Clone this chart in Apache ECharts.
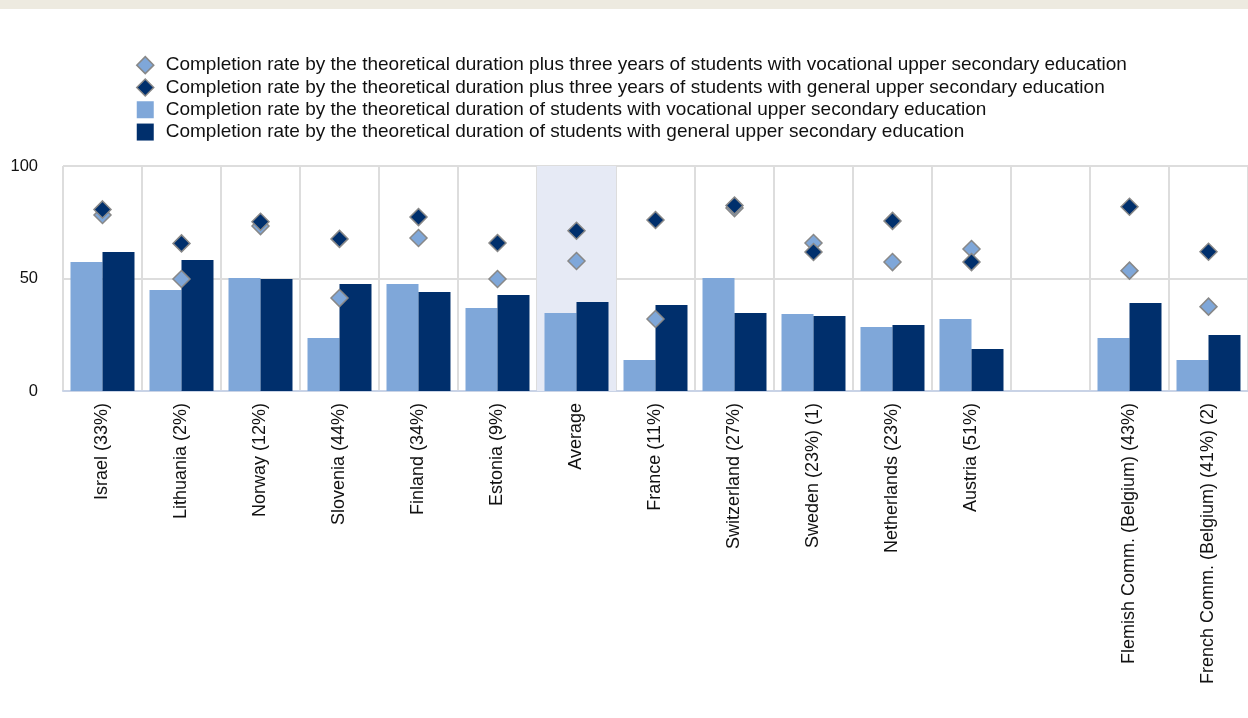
<!DOCTYPE html>
<html>
<head>
<meta charset="utf-8">
<script src="https://cdn.jsdelivr.net/npm/echarts@6/dist/echarts.min.js"></script>
<style>html,body{margin:0;padding:0;background:#fff}#c{width:1248px;height:718px}</style>
</head>
<body>
<div id="c"></div>
<script>
const categories = ['Israel (33%)','Lithuania (2%)','Norway (12%)','Slovenia (44%)','Finland (34%)','Estonia (9%)','Average','France (11%)','Switzerland (27%)','Sweden (23%) (1)','Netherlands (23%)','Austria (51%)','','Flemish Comm. (Belgium) (43%)','French Comm. (Belgium) (41%) (2)'];
const vocTheoretical = [57.3, 44.9, 50.2, 23.6, 47.6, 36.9, 34.7, 13.8, 50.2, 34.2, 28.4, 32.0, null, 23.6, 13.8];
const genTheoretical = [61.8, 58.2, 49.8, 47.6, 44.0, 42.7, 39.6, 38.2, 34.7, 33.3, 29.3, 18.7, null, 39.1, 24.9];
const vocPlus3 = [78.2, 49.8, 73.3, 41.3, 68.0, 49.8, 57.8, 32.0, 81.3, 65.8, 57.3, 63.1, null, 53.5, 37.5];
const genPlus3 = [80.7, 65.6, 75.2, 67.6, 77.3, 65.8, 71.2, 76.0, 82.4, 61.8, 75.6, 57.3, null, 81.9, 61.9];
const yTicks = [0, 50, 100];

const names = [
  'Completion rate by the theoretical duration plus three years of students with vocational upper secondary education',
  'Completion rate by the theoretical duration plus three years of students with general upper secondary education',
  'Completion rate by the theoretical duration of students with vocational upper secondary education',
  'Completion rate by the theoretical duration of students with general upper secondary education'
];
const LIGHT = '#7FA7D9', DARK = '#002F6C';
const FONT = '"Liberation Sans", Arial, sans-serif';

const chart = echarts.init(document.getElementById('c'));
chart.setOption({
  animation: false,
  textStyle: {fontFamily: FONT},
  graphic: [{type: 'rect', left: 0, top: 0, shape: {width: 1248, height: 9}, style: {fill: '#EDEAE0'}, silent: true}],
  legend: {
    orient: 'vertical', left: 136, top: 54, padding: 0, itemGap: 0, itemWidth: 17, itemHeight: 17,
    textStyle: {fontSize: 19, lineHeight: 22.3, color: '#111', fontFamily: FONT, padding: [0, 0, 0, 7]},
    data: [
      {name: names[0], icon: 'diamond', itemStyle: {color: LIGHT, borderColor: '#888', borderWidth: 1.5}},
      {name: names[1], icon: 'diamond', itemStyle: {color: DARK, borderColor: '#888', borderWidth: 1.5}},
      {name: names[2], icon: 'rect'},
      {name: names[3], icon: 'rect'}
    ]
  },
  grid: {left: 63, right: 0, top: 166, bottom: 327},
  xAxis: {
    type: 'category', data: categories,
    axisLine: {show: true, lineStyle: {color: '#C9D3E6', width: 2}},
    axisTick: {show: false},
    axisLabel: {rotate: 90, interval: 0, fontSize: 18, color: '#111', margin: 12, fontFamily: FONT},
    splitLine: {show: true, interval: 0, lineStyle: {color: '#DDDDDD', width: 2}}
  },
  yAxis: {
    type: 'value', min: 0, max: 100, interval: 50,
    axisLine: {show: false}, axisTick: {show: false},
    axisLabel: {fontSize: 16.5, color: '#111', margin: 25, fontFamily: FONT},
    splitLine: {show: true, lineStyle: {color: '#DDDDDD', width: 2}}
  },
  series: [
    {name: names[2], type: 'bar', data: vocTheoretical, itemStyle: {color: LIGHT}, barGap: '0%', barCategoryGap: '19%', z: 2,
     markArea: {silent: true, itemStyle: {color: '#E6EAF5'}, data: [[{xAxis: 'Average'}, {xAxis: 'Average'}]]}},
    {name: names[3], type: 'bar', data: genTheoretical, itemStyle: {color: DARK}, barGap: '0%', barCategoryGap: '19%', z: 2},
    {name: names[0], type: 'scatter', symbol: 'diamond', symbolSize: 17, data: vocPlus3, z: 3,
     itemStyle: {color: LIGHT, borderColor: '#888', borderWidth: 1.5, opacity: 1}},
    {name: names[1], type: 'scatter', symbol: 'diamond', symbolSize: 17, data: genPlus3, z: 4,
     itemStyle: {color: DARK, borderColor: '#888', borderWidth: 1.5, opacity: 1}}
  ]
});
</script>
</body>
</html>
